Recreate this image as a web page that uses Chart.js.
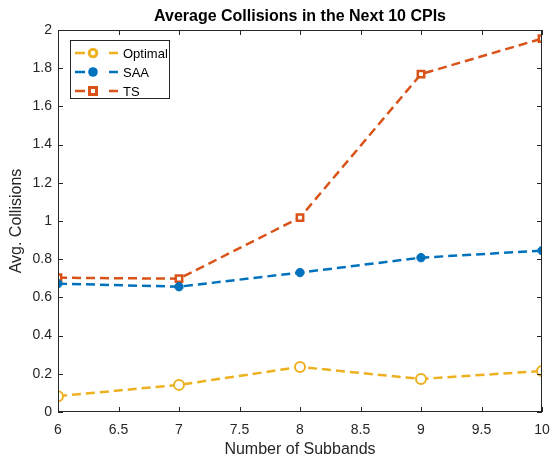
<!DOCTYPE html>
<html>
<head>
<meta charset="utf-8">
<script src="https://cdn.jsdelivr.net/npm/chart.js@4/dist/chart.umd.min.js"></script>
<style>
  html, body { margin: 0; padding: 0; background: #fff; }
  #wrap { width: 552px; height: 462px; }
</style>
</head>
<body>
<div id="wrap"><canvas id="c" width="552" height="462"></canvas></div>
<script>
// Number of subbands on the x axis
const subbands = [6, 7, 8, 9, 10];
// Average collisions over the next 10 CPIs for each method
const optimal = [0.083, 0.142, 0.236, 0.173, 0.215];
const saa = [0.672, 0.656, 0.730, 0.808, 0.845];
const ts = [0.703, 0.698, 1.018, 1.769, 1.955];
// Tick values
const xTicks = [6, 6.5, 7, 7.5, 8, 8.5, 9, 9.5, 10];
const yTicks = [0, 0.2, 0.4, 0.6, 0.8, 1, 1.2, 1.4, 1.6, 1.8, 2];

const FONT = '"Liberation Sans", Arial, Helvetica, sans-serif';
const AXIS_COLOR = '#262626';

const toPoints = ys => subbands.map((x, i) => ({ x: x, y: ys[i] }));

// Box, inward ticks, titles and the in-plot legend
const matlabAxes = {
  id: 'matlabAxes',
  afterDatasetsDraw(chart) {
    const { ctx, chartArea: a, scales } = chart;
    ctx.save();
    ctx.strokeStyle = AXIS_COLOR;
    ctx.lineWidth = 1;
    ctx.strokeRect(a.left + 0.5, a.top + 0.5, a.right - a.left - 1, a.bottom - a.top - 1);
    const tl = 5;
    ctx.beginPath();
    scales.x.ticks.forEach(t => {
      const px = Math.round(scales.x.getPixelForValue(t.value)) + 0.5;
      ctx.moveTo(px, a.bottom); ctx.lineTo(px, a.bottom - tl);
      ctx.moveTo(px, a.top); ctx.lineTo(px, a.top + tl);
    });
    scales.y.ticks.forEach(t => {
      const py = Math.round(scales.y.getPixelForValue(t.value)) + 0.5;
      ctx.moveTo(a.left, py); ctx.lineTo(a.left + tl, py);
      ctx.moveTo(a.right, py); ctx.lineTo(a.right - tl, py);
    });
    ctx.stroke();

    // Title and axis labels
    ctx.fillStyle = '#000';
    ctx.textAlign = 'center';
    ctx.textBaseline = 'middle';
    ctx.font = 'bold 16px ' + FONT;
    ctx.fillText('Average Collisions in the Next 10 CPIs', (a.left + a.right) / 2, 17);
    ctx.fillStyle = AXIS_COLOR;
    ctx.font = '16px ' + FONT;
    ctx.fillText('Number of Subbands', (a.left + a.right) / 2, 450);
    ctx.save();
    ctx.translate(17, (a.top + a.bottom) / 2);
    ctx.rotate(-Math.PI / 2);
    ctx.fillText('Avg. Collisions', 0, 0);
    ctx.restore();

    // Legend
    const lx = a.left + 12, ly = a.top + 10, lw = 100, lh = 59;
    ctx.fillStyle = '#fff';
    ctx.fillRect(lx, ly, lw, lh);
    ctx.strokeStyle = AXIS_COLOR;
    ctx.lineWidth = 1;
    ctx.strokeRect(lx + 0.5, ly + 0.5, lw - 1, lh - 1);
    chart.data.datasets.forEach((ds, i) => {
      const y = ly + 13 + i * 19;
      ctx.save();
      ctx.strokeStyle = ds.borderColor;
      ctx.lineWidth = 2.5;
      ctx.beginPath();
      ctx.moveTo(lx + 5, y); ctx.lineTo(lx + 15, y);
      ctx.moveTo(lx + 39, y); ctx.lineTo(lx + 48, y);
      ctx.stroke();
      const mx = lx + 23;
      ctx.fillStyle = ds.borderColor;
      if (ds.pointStyle === 'rect') {
        ctx.lineWidth = 3;
        ctx.strokeRect(mx - 3.5, y - 3.5, 7, 7);
      } else if (ds.pointBackgroundColor === '#ffffff') {
        ctx.lineWidth = 3;
        ctx.beginPath();
        ctx.arc(mx, y, 3.8, 0, Math.PI * 2);
        ctx.stroke();
      } else {
        ctx.beginPath();
        ctx.arc(mx, y, 4.8, 0, Math.PI * 2);
        ctx.fill();
      }
      ctx.restore();
      ctx.fillStyle = '#000';
      ctx.textAlign = 'left';
      ctx.font = '13px ' + FONT;
      ctx.fillText(ds.label, lx + 53, y + 1);
    });
    ctx.restore();
  }
};

new Chart(document.getElementById('c'), {
  type: 'line',
  data: {
    datasets: [
      {
        label: 'Optimal', data: toPoints(optimal),
        borderColor: '#EDB120', backgroundColor: '#ffffff',
        borderWidth: 2.5, borderDash: [9, 5],
        pointStyle: 'circle', pointRadius: 5, pointBorderWidth: 2,
        pointBackgroundColor: '#ffffff', pointBorderColor: '#EDB120'
      },
      {
        label: 'SAA', data: toPoints(saa),
        borderColor: '#0072BD', backgroundColor: '#0072BD',
        borderWidth: 2.5, borderDash: [9, 5],
        pointStyle: 'circle', pointRadius: 4.2, pointBorderWidth: 1,
        pointBackgroundColor: '#0072BD', pointBorderColor: '#0072BD'
      },
      {
        label: 'TS', data: toPoints(ts),
        borderColor: '#D95319', backgroundColor: '#ffffff',
        borderWidth: 2.5, borderDash: [9, 5],
        pointStyle: 'rect', pointRadius: 4.5, pointBorderWidth: 2.5,
        pointBackgroundColor: '#ffffff', pointBorderColor: '#D95319'
      }
    ]
  },
  options: {
    responsive: false,
    animation: false,
    layout: { padding: { top: 30, right: 10, left: 0, bottom: 0 } },
    plugins: { legend: { display: false }, title: { display: false }, tooltip: { enabled: false } },
    scales: {
      x: {
        type: 'linear', min: 6, max: 10,
        grid: { display: false, drawTicks: false },
        border: { display: false },
        afterBuildTicks: s => { s.ticks = xTicks.map(v => ({ value: v })); },
        afterFit: s => { s.height = 50; s.paddingLeft = 0; s.paddingRight = 0; },
        ticks: {
          padding: 10, color: AXIS_COLOR, maxRotation: 0, autoSkip: false,
          font: { family: FONT, size: 14 },
          callback: v => String(v)
        }
      },
      y: {
        type: 'linear', min: 0, max: 2,
        grid: { display: false, drawTicks: false },
        border: { display: false },
        afterBuildTicks: s => { s.ticks = yTicks.map(v => ({ value: v })); },
        afterFit: s => { s.width = 58; s.paddingTop = 0; s.paddingBottom = 0; },
        ticks: {
          padding: 6, color: AXIS_COLOR, autoSkip: false,
          font: { family: FONT, size: 14 },
          callback: v => String(v)
        }
      }
    }
  },
  plugins: [matlabAxes]
});
</script>
</body>
</html>
